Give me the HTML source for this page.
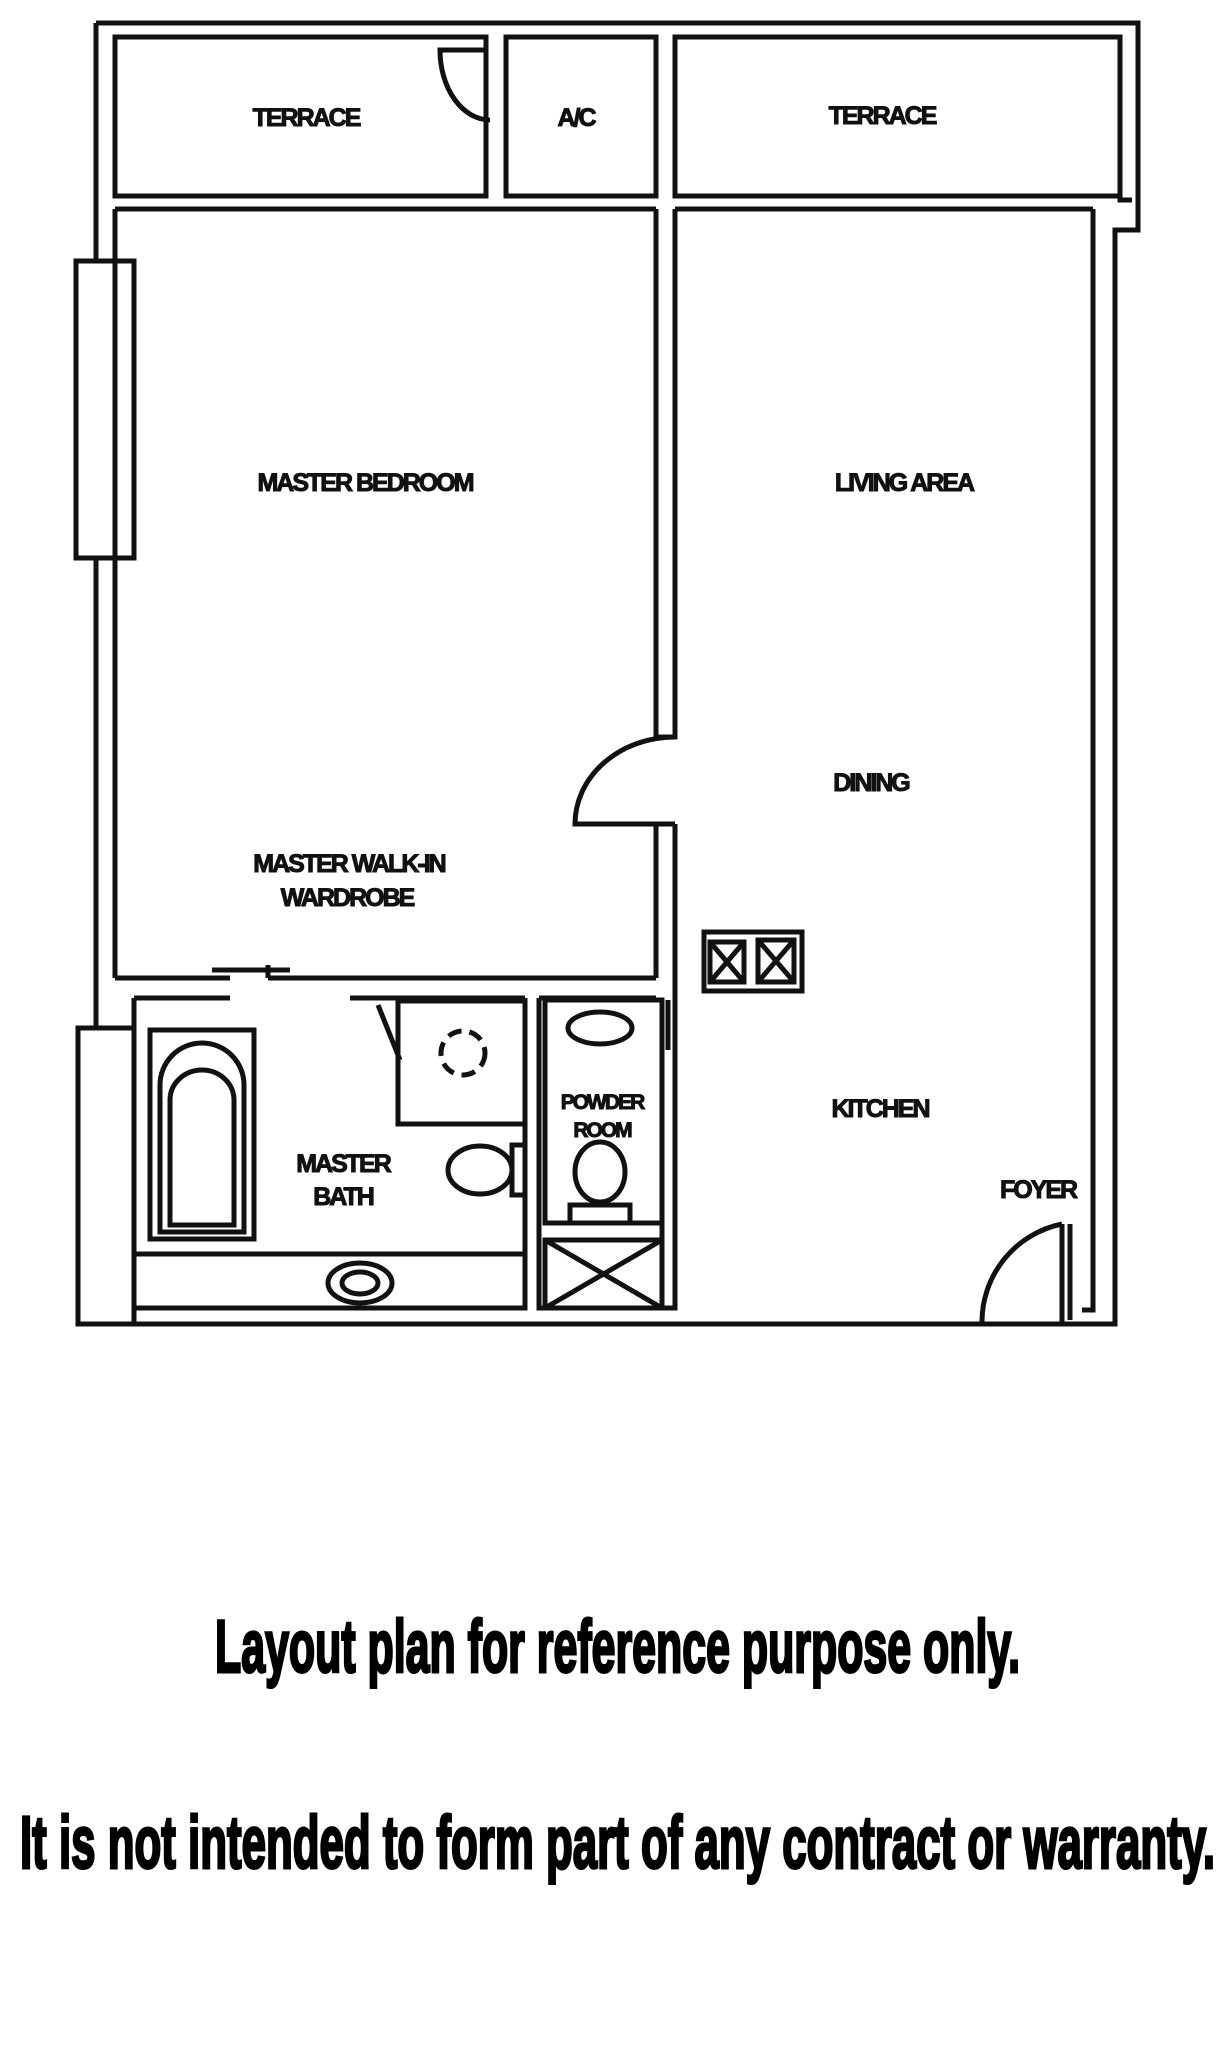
<!DOCTYPE html>
<html><head><meta charset="utf-8"><style>
html,body{margin:0;padding:0;background:#fff;}
svg{display:block;}
.l{font-family:"Liberation Sans",sans-serif;font-weight:bold;font-size:25px;fill:#111;stroke:#111;stroke-width:1;letter-spacing:-2px;text-anchor:middle;}
.b{font-family:"Liberation Sans",sans-serif;font-weight:bold;fill:#000;stroke:#000;stroke-width:3;}
</style></head><body>
<svg width="1226" height="2048" viewBox="0 0 1226 2048" xmlns="http://www.w3.org/2000/svg">
<g fill="none" stroke="#111" stroke-width="5">
<path d="M96 23 H1138 V230 H1115 V1324 H82"/>
<path d="M96 23 V261 M96 558 V1028"/>
<path d="M115 37 H486 M506 37 H656 M675 37 H1120"/>
<path d="M1120 37 V200 H1132"/>
<rect x="115" y="37" width="371" height="159"/>
<rect x="506" y="37" width="150" height="159"/>
<rect x="675" y="37" width="445" height="159"/>
<path d="M115 209 H656 M675 209 H1093"/>
<path d="M115 209 V978"/>
<path d="M134 998 V1308"/>
<rect x="76" y="261" width="58" height="297"/>
<rect x="78" y="1028" width="56" height="296"/>
<path d="M656 209 V737 H675 V209"/>
<path d="M656 824 V978 M675 824 V1308 H662 V1130"/>
<path d="M656 824 H675"/>
<path d="M675 737 A100 87 0 0 0 575 824 H656"/>
<path d="M1093 209 V1310 H1082"/>
<path d="M115 978 H230 M268 978 H656"/>
<path d="M134 998 H230 M350 998 H525 M539 998 H656"/>
<path d="M212 970 H290 M268 965 V978"/>
<path d="M134 1254 H525"/>
<path d="M134 1308 H525 V998 M539 998 V1308 H662"/>
<rect x="398" y="1001" width="127" height="123"/>
<path d="M378 1005 L400 1060"/>
<circle cx="463" cy="1053" r="22" stroke-dasharray="14 8"/>
<rect x="150" y="1030" width="104" height="209"/>
<path d="M160 1232 V1085 A42 42 0 0 1 244 1085 V1232 Z"/>
<path d="M170 1225 V1100 A32 30 0 0 1 234 1100 V1225 Z"/>
<ellipse cx="480" cy="1170" rx="32" ry="24"/>
<rect x="512" y="1145" width="13" height="50"/>
<ellipse cx="360" cy="1283" rx="32" ry="20"/>
<ellipse cx="360" cy="1283" rx="18" ry="11"/>
<rect x="545" y="1000" width="117" height="223"/>
<ellipse cx="600" cy="1028" rx="32" ry="16"/>
<ellipse cx="600" cy="1172" rx="25" ry="30"/>
<path d="M570 1222 V1205 H630 V1222"/>
<rect x="545" y="1240" width="117" height="68"/>
<path d="M545 1240 L662 1308 M662 1240 L545 1308"/>
<path d="M668 1000 V1050"/>
<rect x="704" y="932" width="98" height="59"/>
<rect x="710" y="942" width="34" height="40"/>
<rect x="758" y="940" width="36" height="42"/>
<path d="M710 942 L744 982 M744 942 L710 982 M758 940 L794 982 M794 940 L758 982"/>
<path d="M1062 1324 V1224 M1070 1224 V1320 M1062 1224 A100 100 0 0 0 982 1324"/>
<path d="M486 50 H440 A50 70 0 0 0 490 120"/>
</g>
<text class="l" x="306" y="126">TERRACE</text>
<text class="l" x="576" y="126">A/C</text>
<text class="l" x="882" y="124">TERRACE</text>
<text class="l" x="365" y="491">MASTER BEDROOM</text>
<text class="l" x="904" y="491">LIVING AREA</text>
<text class="l" x="871" y="791">DINING</text>
<text class="l" x="349" y="872">MASTER WALK-IN</text>
<text class="l" x="347" y="906">WARDROBE</text>
<text class="l" x="880" y="1117">KITCHEN</text>
<text class="l" x="602" y="1109" style="font-size:21px">POWDER</text>
<text class="l" x="602" y="1137" style="font-size:21px">ROOM</text>
<text class="l" x="343" y="1172">MASTER</text>
<text class="l" x="343" y="1205">BATH</text>
<text class="l" x="1038" y="1198">FOYER</text>
<text class="b" x="215" y="1672" font-size="74" textLength="805" lengthAdjust="spacingAndGlyphs">Layout plan for reference purpose only.</text>
<text class="b" x="20" y="1868" font-size="74" textLength="1195" lengthAdjust="spacingAndGlyphs">It is not intended to form part of any contract or warranty.</text>
</svg>
</body></html>
